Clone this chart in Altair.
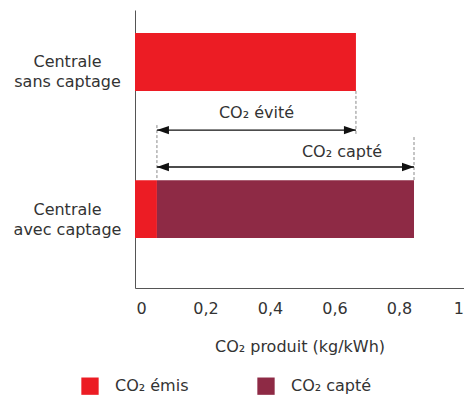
import altair as alt
import pandas as pd

# ---- data ----
categories = ["Centrale|sans captage", "Centrale|avec captage"]
series = ["CO₂ émis", "CO₂ capté"]
emis = [0.685, 0.068]       # kg/kWh emitted
capte = [0.0, 0.797]        # kg/kWh captured
x_ticks = [0, 0.2, 0.4, 0.6, 0.8, 1]
tick_labels = ["0", "0,2", "0,4", "0,6", "0,8", "1"]
colors = ["#EC1C24", "#8E2A45"]
arrow_names = ["CO₂ évité", "CO₂ capté"]

# ---- layout (row units on a 0..10 vertical scale) ----
bar_center = [1.87, 7.16]
bar_half = 1.04
arrow_y = [4.32, 5.65]
label_y = [3.71, 5.11]

bars = []
for i, c in enumerate(categories):
    bars.append(dict(cat=c, type=series[0], x0=0, x1=emis[i],
                     y0=bar_center[i] - bar_half, y1=bar_center[i] + bar_half))
    if capte[i] > 0:
        bars.append(dict(cat=c, type=series[1], x0=emis[i], x1=emis[i] + capte[i],
                         y0=bar_center[i] - bar_half, y1=bar_center[i] + bar_half))
bars_df = pd.DataFrame(bars)

total_with = emis[1] + capte[1]
arrows_df = pd.DataFrame([
    dict(name=arrow_names[0], x0=emis[1], x1=emis[0], y=arrow_y[0], ly=label_y[0]),
    dict(name=arrow_names[1], x0=emis[1], x1=total_with, y=arrow_y[1], ly=label_y[1]),
])
heads_df = pd.concat([
    pd.DataFrame(dict(x=arrows_df.x0, y=arrows_df.y, dir="left")),
    pd.DataFrame(dict(x=arrows_df.x1, y=arrows_df.y, dir="right")),
])
dashes_df = pd.DataFrame([
    dict(x=emis[0], y0=bar_center[0] + bar_half, y1=4.5),
    dict(x=emis[1], y0=4.14, y1=bar_center[1] - bar_half),
    dict(x=total_with, y0=4.57, y1=bar_center[1] - bar_half),
])

FONT = "DejaVu Sans"
TXT = "#333333"

xscale = alt.Scale(domain=[0, 1.02], nice=False)
yscale = alt.Scale(domain=[0, 10], reverse=True, nice=False)

label_expr = " : ".join(
    [f"abs(datum.value - {bar_center[i]}) < 0.01 ? split('{categories[i]}', '|')" for i in range(len(categories))]
) + " : ''"
xlabel_expr = " : ".join(
    [f"abs(datum.value - {v}) < 0.001 ? '{t}'" for v, t in zip(x_ticks, tick_labels)]
) + " : ''"

bar_layer = alt.Chart(bars_df).mark_bar(stroke=None).encode(
    x=alt.X("x0:Q", scale=xscale,
            axis=alt.Axis(values=x_ticks, labelExpr=xlabel_expr, ticks=False, grid=False,
                          title="CO₂ produit (kg/kWh)", labelPadding=12, labelOffset=6,
                          labelAlign=alt.ExprRef(expr="datum.value >= 1 ? 'right' : 'center'"),
                          titlePadding=22, labelFlush=False)),
    x2="x1:Q",
    y=alt.Y("y0:Q", scale=yscale,
            axis=alt.Axis(values=bar_center, labelExpr=label_expr, ticks=False, grid=False,
                          title=None, labelAlign="center", labelBaseline="middle",
                          labelPadding=68, labelLineHeight=20)),
    y2="y1:Q",
    color=alt.Color("type:N", scale=alt.Scale(domain=series, range=colors),
                    legend=alt.Legend(title=None, orient="none", legendX=-54, legendY=367,
                                      direction="horizontal", symbolType="square",
                                      symbolSize=300, symbolStrokeWidth=0,
                                      labelFontSize=16, labelFont=FONT, labelColor=TXT,
                                      labelOffset=16, columnPadding=68)),
)

dash_layer = alt.Chart(dashes_df).mark_rule(color="#8a8a8a", strokeDash=[3, 2], strokeWidth=1).encode(
    x=alt.X("x:Q", scale=xscale), y=alt.Y("y0:Q", scale=yscale), y2="y1:Q"
)

arrow_layer = alt.Chart(arrows_df).mark_rule(color="#111111", strokeWidth=1.4).encode(
    x=alt.X("x0:Q", scale=xscale), x2="x1:Q", y=alt.Y("y:Q", scale=yscale)
)

right_head = "M0,0 L-2,-0.7 L-2,0.7 Z"
left_head = "M0,0 L2,-0.7 L2,0.7 Z"
heads_r = alt.Chart(heads_df[heads_df.dir == "right"]).mark_point(
    shape=right_head, filled=True, color="#111111", size=144, opacity=1, strokeWidth=0
).encode(x=alt.X("x:Q", scale=xscale), y=alt.Y("y:Q", scale=yscale))
heads_l = alt.Chart(heads_df[heads_df.dir == "left"]).mark_point(
    shape=left_head, filled=True, color="#111111", size=144, opacity=1, strokeWidth=0
).encode(x=alt.X("x:Q", scale=xscale), y=alt.Y("y:Q", scale=yscale))

label1 = alt.Chart(arrows_df.iloc[[0]]).transform_calculate(
    xm="(datum.x0 + datum.x1) / 2"
).mark_text(font=FONT, fontSize=16, color=TXT, align="center", baseline="middle").encode(
    x=alt.X("xm:Q", scale=xscale), y=alt.Y("ly:Q", scale=yscale), text="name:N"
)
label2 = alt.Chart(arrows_df.iloc[[1]]).mark_text(
    font=FONT, fontSize=16, color=TXT, align="center", baseline="middle", dx=-72
).encode(x=alt.X("x1:Q", scale=xscale), y=alt.Y("ly:Q", scale=yscale), text="name:N")

chart = alt.layer(bar_layer, dash_layer, arrow_layer, heads_r, heads_l, label1, label2).properties(
    width=329, height=278,
    autosize=alt.AutoSizeParams(type="none"),
    padding={"left": 127, "top": 2, "right": 0, "bottom": 107},
).configure_view(stroke=None).configure_axis(
    domainColor="#555555", domainWidth=1,
    labelFont=FONT, labelFontSize=16, labelColor=TXT,
    titleFont=FONT, titleFontSize=16, titleColor=TXT, titleFontWeight="normal",
)

chart.save("out.html", embed_options={"renderer": "svg", "actions": False})
